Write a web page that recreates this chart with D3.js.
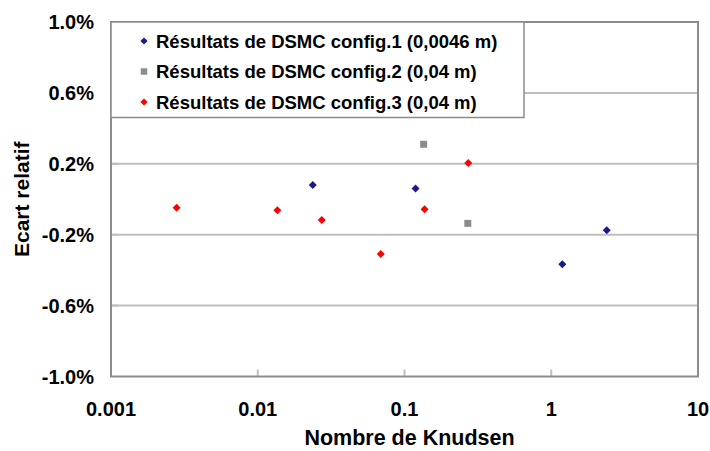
<!DOCTYPE html>
<html lang="fr">
<head>
    <meta charset="UTF-8">
    <title>Ecart relatif vs Nombre de Knudsen</title>
    <style>
        body { margin: 0; background: #fff; }
        svg text { font-family: "Liberation Sans", Arial, sans-serif; font-weight: bold; fill: #000; }
    </style>
</head>
<body>
    <div id="chart"></div>

    <script src="https://d3js.org/d3.v7.min.js"></script>
    <script>
        const width = 710;
        const height = 451;

        // Data: [Knudsen number, relative deviation in %]
        const config1 = [[0.0237, 0.080], [0.119, 0.060], [1.19, -0.367], [2.39, -0.175]];
        const config2 = [[0.135, 0.310], [0.270, -0.136]];
        const config3 = [[0.0028, -0.048], [0.0136, -0.062], [0.0273, -0.117],
                         [0.0689, -0.309], [0.137, -0.057], [0.272, 0.205]];

        const seriesNames = [
            "Résultats de DSMC config.1 (0,0046 m)",
            "Résultats de DSMC config.2 (0,04 m)",
            "Résultats de DSMC config.3 (0,04 m)"
        ];
        const xTicks = [0.001, 0.01, 0.1, 1, 10];
        const yTicks = [-1.0, -0.6, -0.2, 0.2, 0.6, 1.0];

        // diamonds are squares turned by 45 degrees
        const series = [
            { name: seriesNames[0], data: config1, color: "#1a1a8c", rot: 45 },
            { name: seriesNames[1], data: config2, color: "#8c8c8c", rot: 0 },
            { name: seriesNames[2], data: config3, color: "#ff0000", rot: 45 }
        ];

        const margin = { left: 111, right: 12, top: 22, bottom: 74.5 };

        const x = d3.scaleLog()
            .domain([0.001, 10])
            .range([margin.left, width - margin.right]);

        const y = d3.scaleLinear()
            .domain([-1, 1])
            .range([height - margin.bottom, margin.top]);

        const svg = d3.select("#chart").append("svg")
            .attr("width", width)
            .attr("height", height);

        // gridlines
        svg.append("g")
            .selectAll("line")
            .data(yTicks.filter(d => d > -1 && d < 1))
            .enter().append("line")
            .attr("x1", x.range()[0])
            .attr("x2", x.range()[1])
            .attr("y1", d => y(d))
            .attr("y2", d => y(d))
            .attr("stroke", "#bfbfbf")
            .attr("stroke-width", 2);

        // inner tick marks on the x axis
        svg.append("g")
            .selectAll("line")
            .data(xTicks.slice(1, -1))
            .enter().append("line")
            .attr("x1", d => x(d))
            .attr("x2", d => x(d))
            .attr("y1", y(-1))
            .attr("y2", y(-1) - 7)
            .attr("stroke", "#bfbfbf")
            .attr("stroke-width", 2);

        // inner tick marks on the y axis
        svg.append("g")
            .selectAll("line")
            .data(yTicks.slice(1, -1))
            .enter().append("line")
            .attr("x1", x.range()[0])
            .attr("x2", x.range()[0] + 7)
            .attr("y1", d => y(d))
            .attr("y2", d => y(d))
            .attr("stroke", "#bfbfbf")
            .attr("stroke-width", 2);

        // plot area border
        svg.append("rect")
            .attr("x", x.range()[0])
            .attr("y", y.range()[1])
            .attr("width", x.range()[1] - x.range()[0])
            .attr("height", y.range()[0] - y.range()[1])
            .attr("fill", "none")
            .attr("stroke", "#8c8c8c")
            .attr("stroke-width", 2);

        // tick labels
        svg.append("g")
            .selectAll("text")
            .data(xTicks)
            .enter().append("text")
            .attr("x", d => x(d))
            .attr("y", 416)
            .attr("text-anchor", "middle")
            .attr("font-size", 20)
            .text(d => String(d));

        svg.append("g")
            .selectAll("text")
            .data(yTicks)
            .enter().append("text")
            .attr("x", 94)
            .attr("y", d => y(d))
            .attr("dy", "0.36em")
            .attr("text-anchor", "end")
            .attr("font-size", 20)
            .text(d => d.toFixed(1) + "%");

        // axis titles
        svg.append("text")
            .attr("x", (x.range()[0] + x.range()[1]) / 2 + 5)
            .attr("y", 445)
            .attr("text-anchor", "middle")
            .attr("font-size", 21.5)
            .text("Nombre de Knudsen");

        svg.append("text")
            .attr("transform", `translate(29,${(y.range()[0] + y.range()[1]) / 2}) rotate(-90)`)
            .attr("text-anchor", "middle")
            .attr("font-size", 21)
            .text("Ecart relatif");

        // points
        const symbol = d3.symbol().type(d3.symbolSquare);
        series.forEach(s => {
            svg.append("g")
                .selectAll("path")
                .data(s.data)
                .enter().append("path")
                .attr("transform", d => `translate(${x(d[0])},${y(d[1])}) rotate(${s.rot})`)
                .attr("d", symbol.size(s.rot ? 32 : 49)())
                .attr("fill", s.color);
        });

        // legend
        const legend = svg.append("g");
        legend.append("rect")
            .attr("x", 111)
            .attr("y", 22)
            .attr("width", 413)
            .attr("height", 95.5)
            .attr("fill", "#fff")
            .attr("stroke", "#8c8c8c")
            .attr("stroke-width", 1.5);

        const item = legend.selectAll("g.item")
            .data(series)
            .enter().append("g")
            .attr("class", "item")
            .attr("transform", (d, i) => `translate(144,${41 + i * 30.5})`);

        item.append("path")
            .attr("d", d => symbol.size(d.rot ? 26 : 42)())
            .attr("transform", d => `rotate(${d.rot})`)
            .attr("fill", d => d.color);

        item.append("text")
            .attr("x", 12)
            .attr("dy", "0.36em")
            .attr("font-size", 18.5)
            .text(d => d.name);
    </script>
</body>
</html>
